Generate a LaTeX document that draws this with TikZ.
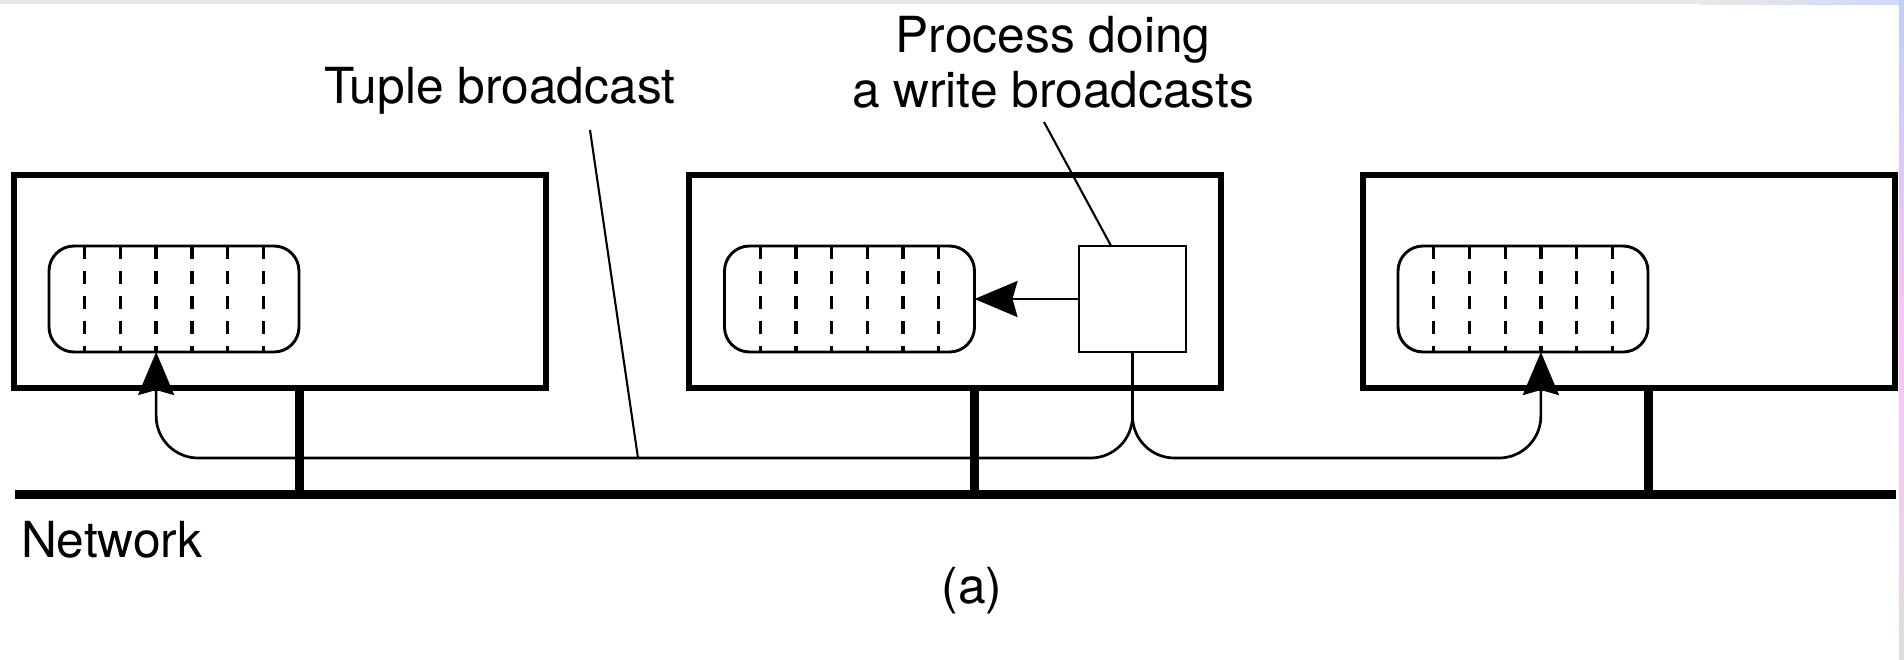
\documentclass[tikz,border=0pt]{standalone}
\usepackage{fontspec}
\setmainfont{TeX Gyre Heros}
\usetikzlibrary{arrows.meta,calc}

\tikzset{
  every node/.style={outer sep=0pt},
  hostbox/.style={draw, line width=2.85pt, rectangle, minimum width=266pt, minimum height=106.5pt, inner sep=0pt},
  tspace/.style={draw, line width=1.45pt, rectangle, rounded corners=12.5pt, minimum width=125pt, minimum height=53pt, inner sep=0pt},
  procbox/.style={draw, line width=1.35pt, rectangle, minimum width=53.5pt, minimum height=53pt, inner sep=0pt},
  slot/.style={line width=1.65pt, dash pattern=on 6.5pt off 6pt},
  stem/.style={line width=4.5pt},
  netline/.style={line width=4.5pt},
  thinline/.style={line width=1.35pt},
  leader/.style={line width=1.05pt},
  bigtip/.style={-{Stealth[length=21.5pt, width=18pt, inset=2.5pt]}},
  lbl/.style={inner sep=0pt, font=\fontsize{24.85pt}{27.5pt}\selectfont},
}

\begin{document}
\begin{tikzpicture}[x=0.5pt, y=-0.5pt]
  % page
  \useasboundingbox (0,0) rectangle (1904,659);
  \fill[white] (0,0) rectangle (1904,659);
  \fill[gray!18] (0,0) rectangle (1904,4);
  \shade[left color=gray!18, right color=cyan!25!blue!20] (1700,0) rectangle (1904,4);
  \shade[top color=cyan!25!blue!25, bottom color=magenta!25] (1899,0) rectangle (1904,330);
  \shade[top color=magenta!25, bottom color=gray!25] (1899,330) rectangle (1904,659);

  % hosts
  \node[hostbox] (hostA) at (280,281.5) {};
  \node[hostbox] (hostB) at (955,281.5) {};
  \node[hostbox] (hostC) at (1629,281.5) {};

  % tuple spaces
  \node[tspace] (tsA) at (174,299) {};
  \node[tspace] (tsB) at (849.5,299) {};
  \node[tspace] (tsC) at (1523,299) {};
  \foreach \t in {tsA,tsB,tsC}{
    \foreach \k in {1,...,6}{
      \draw[slot] ($(\t.north west)!\k/7!(\t.north east)$) -- ($(\t.south west)!\k/7!(\t.south east)$);
    }
  }

  % writing process
  \node[procbox] (proc) at (1132.5,299) {};

  % network
  \coordinate (netL) at (15,494);
  \coordinate (netR) at (1896,494);
  \draw[netline] (netL) -- (netR);
  \foreach \h/\t in {hostA/tsA, hostB/tsB, hostC/tsC}{
    \draw[stem] (\h.south -| \t.east) -- (\t.east |- netL);
  }

  % local write
  \draw[thinline, bigtip] (proc.west) -- (tsB.east);

  % broadcast paths
  \coordinate (bcast) at (0,458);
  \coordinate (tipA) at ($(tsA.south west)!3/7!(tsA.south east)$);
  \coordinate (tipC) at ($(tsC.south west)!4/7!(tsC.south east)$);
  \draw[thinline, bigtip, rounded corners=21pt]
    (proc.south) -- (proc.south |- bcast) -- (tipA |- bcast) -- (tipA);
  \draw[thinline, bigtip, rounded corners=21pt]
    (proc.south) -- (proc.south |- bcast) -- (tipC |- bcast) -- (tipC);

  % labels
  \node[lbl, anchor=base west] (tupleLbl) at (324,103) {Tuple broadcast};
  \node[lbl, anchor=base] (procLbl1) at (1053,52) {Process doing};
  \node[lbl, anchor=base] (procLbl2) at (1053,107) {a write broadcasts};
  \node[lbl, anchor=base west] (netLbl) at (21,557) {Network};
  \node[lbl, anchor=base] (figLbl) at (972,603) {(a)};

  % leader lines
  \coordinate (tupleFrom) at (590,130);
  \coordinate (tupleTo) at (638,458);
  \draw[leader] (tupleFrom) -- (tupleTo);
  \coordinate (procFrom) at (1044,122);
  \draw[leader] (procFrom) -- ($(proc.north west)!0.3!(proc.north east)$);
\end{tikzpicture}
\end{document}
